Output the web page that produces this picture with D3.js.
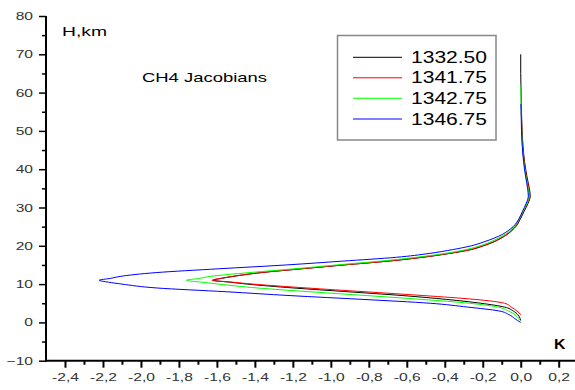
<!DOCTYPE html>
<html><head><meta charset="utf-8">
<script src="https://cdn.jsdelivr.net/npm/d3@7"></script>
<style>
html,body{margin:0;padding:0;background:#fff;}
svg{display:block;}
text{font-family:"Liberation Sans",Arial,sans-serif;}
</style></head>
<body>
<svg id="chart" width="575" height="390"></svg>
<script>
// ---- data ----
const heights = [0,0.5,1,2,3,4,5,6,7,8,9,10,10.5,11,11.5,12,13,14,15,16,17,18,19,20,21,22,23,24,25,27,29,31,33,35,38,42,46,50,55,57,60,62,65,70];
const seriesNames = ["1332.50","1341.75","1342.75","1346.75"];
const seriesColors = ["#000000","#ff0000","#00ff00","#0000ff"];
const s1332_50 = [null,0,-0.003,-0.015,-0.04,-0.085,-0.21,-0.39,-0.62,-0.91,-1.20,-1.44,-1.53,-1.62,-1.575,-1.515,-1.365,-1.15,-0.93,-0.695,-0.515,-0.375,-0.262,-0.196,-0.142,-0.103,-0.07,-0.046,-0.026,-0.002,0.018,0.038,0.05,0.045,0.033,0.02,0.012,0.007,0.004,0.003,0.002,0.001,0.0,0.0];
const s1341_75 = [null,null,null,0,-0.02,-0.05,-0.085,-0.24,-0.51,-0.82,-1.13,-1.41,-1.52,-1.626,-1.58,-1.52,-1.37,-1.156,-0.935,-0.70,-0.522,-0.38,-0.267,-0.201,-0.146,-0.107,-0.073,-0.05,-0.03,-0.006,0.014,0.034,0.047,0.042,0.03,0.018,0.01,0.006,0.003,null,null,null,null,null];
const s1342_75 = [null,0,-0.01,-0.03,-0.065,-0.12,-0.27,-0.52,-0.81,-1.11,-1.39,-1.59,-1.68,-1.76,-1.69,-1.636,-1.43,-1.19,-0.97,-0.74,-0.55,-0.40,-0.29,-0.215,-0.16,-0.118,-0.082,-0.055,-0.034,-0.008,0.012,0.032,0.044,0.039,0.028,0.016,0.009,0.005,0.003,0.002,0.001,0.001,null,null];
const s1346_75 = [0,-0.017,-0.031,-0.061,-0.115,-0.28,-0.477,-0.83,-1.215,-1.55,-1.92,-2.10,-2.17,-2.22,-2.16,-2.11,-1.92,-1.59,-1.235,-0.939,-0.655,-0.482,-0.359,-0.26,-0.195,-0.14,-0.096,-0.065,-0.04,-0.01,0.009,0.028,0.04,0.036,0.026,0.015,0.008,0.004,0.002,0.001,null,null,null,null];
const seriesValues = [s1332_50, s1341_75, s1342_75, s1346_75];
const xMajorTicks = [-2.4,-2.2,-2.0,-1.8,-1.6,-1.4,-1.2,-1.0,-0.8,-0.6,-0.4,-0.2,0.0,0.2];
const xTickLabels = ["-2,4","-2,2","-2,0","-1,8","-1,6","-1,4","-1,2","-1,0","-0,8","-0,6","-0,4","-0,2","0,0","0,2"];
const xMinorTicks = [-2.3,-2.1,-1.9,-1.7,-1.5,-1.3,-1.1,-0.9,-0.7,-0.5,-0.3,-0.1,0.1];
const yMajorTicks = [-10,0,10,20,30,40,50,60,70,80];
const yMinorTicks = [-5,5,15,25,35,45,55,65,75];

// ---- chart ----
const svg = d3.select("#chart");
const x = d3.scaleLinear().domain([-2.5, 0.3]).range([46, 577.7]);
const y = d3.scaleLinear().domain([-10, 80]).range([360.7, 16]);

const sx = 1.42;
// x axis
const gx = svg.append("g").attr("transform", `translate(0,${y(-10)})`);
gx.call(d3.axisBottom(x).tickValues(xMajorTicks).tickSize(7).tickPadding(5)
   .tickFormat((d,i) => xTickLabels[i]));
gx.select(".domain").remove();
gx.selectAll(".tick line").attr("stroke","#000").attr("stroke-width",2);
gx.selectAll(".tick text").attr("fill","#333").style("font-size","11px")
   .attr("transform",`scale(${sx},1)`);
const gxm = svg.append("g").attr("transform", `translate(0,${y(-10)})`);
gxm.call(d3.axisBottom(x).tickValues(xMinorTicks).tickSize(4).tickFormat(""));
gxm.select(".domain").remove();
gxm.selectAll(".tick line").attr("stroke","#000").attr("stroke-width",2);

// y axis
const gy = svg.append("g").attr("transform", `translate(${x(-2.5)},0)`);
gy.call(d3.axisLeft(y).tickValues(yMajorTicks).tickSize(7).tickPadding(6));
gy.select(".domain").remove();
gy.selectAll(".tick line").attr("stroke","#000").attr("stroke-width",1.5);
gy.selectAll(".tick text").attr("fill","#333").style("font-size","11px")
   .attr("x", -13/sx).attr("transform",`scale(${sx},1)`);
const gym = svg.append("g").attr("transform", `translate(${x(-2.5)},0)`);
gym.call(d3.axisLeft(y).tickValues(yMinorTicks).tickSize(4).tickFormat(""));
gym.select(".domain").remove();
gym.selectAll(".tick line").attr("stroke","#000").attr("stroke-width",1.5);

// axis lines
svg.append("line").attr("x1", x(-2.5)).attr("x2", 575).attr("y1", y(-10)).attr("y2", y(-10))
   .attr("stroke","#000").attr("stroke-width",2);
svg.append("line").attr("x1", x(-2.5)).attr("x2", x(-2.5)).attr("y1", y(-10)+1).attr("y2", y(80))
   .attr("stroke","#000").attr("stroke-width",2);

// curves
const line = d3.line()
  .defined(d => d.v !== null)
  .x(d => x(d.v)).y(d => y(d.h))
  .curve(d3.curveMonotoneY);
seriesValues.forEach((vals, i) => {
  const pts = heights.map((h, j) => ({h: h, v: vals[j]}));
  svg.append("path").datum(pts).attr("d", line)
     .attr("fill","none").attr("stroke", seriesColors[i]).attr("stroke-width",1);
});

// labels
svg.append("text").attr("x",62).attr("y",36).style("font-size","13px").attr("fill","#000")
   .attr("textLength",45).attr("lengthAdjust","spacingAndGlyphs").text("H,km");
svg.append("text").attr("x",142).attr("y",81.5).style("font-size","13.5px").attr("fill","#000")
   .attr("textLength",125).attr("lengthAdjust","spacingAndGlyphs").text("CH4 Jacobians");
svg.append("text").attr("x",554).attr("y",348.5).style("font-size","14px").style("font-weight","bold").attr("fill","#000")
   .attr("textLength",11.5).attr("lengthAdjust","spacingAndGlyphs").text("K");

// legend
const lg = svg.append("g");
lg.append("rect").attr("x",337.5).attr("y",35.5).attr("width",158.5).attr("height",104.5)
  .attr("fill","#fff").attr("stroke","#888").attr("stroke-width",1.5);
const legY = [57.3, 77.8, 98.3, 119];
seriesNames.forEach((n, i) => {
  lg.append("line").attr("x1",353).attr("x2",402).attr("y1",legY[i]).attr("y2",legY[i])
    .attr("stroke", seriesColors[i]).attr("stroke-width",1);
  lg.append("text").attr("x",411).attr("y",legY[i]+5.6).style("font-size","16px").attr("fill","#000")
    .attr("textLength",76).attr("lengthAdjust","spacingAndGlyphs").text(n);
});
</script>
</body></html>
